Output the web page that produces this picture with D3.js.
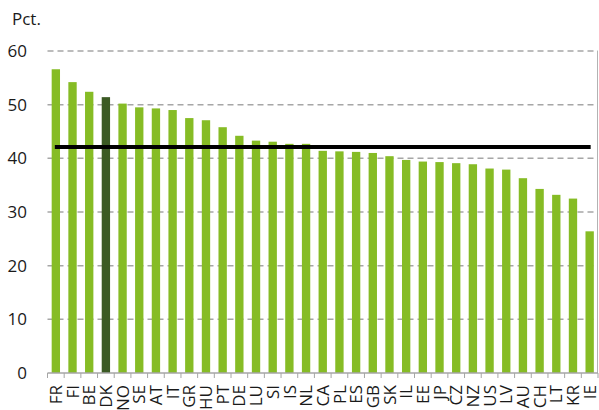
<!DOCTYPE html>
<html>
<head>
<meta charset="utf-8">
<script src="https://cdn.jsdelivr.net/npm/d3@7"></script>
<style>
  body { margin: 0; background: #fff; }
  svg text { font-family: "Open Sans", "Noto Sans", sans-serif; fill: #1a1a1a; }
</style>
</head>
<body>
<div id="chart"></div>
<script>
// Countries, sorted by value
const countries = ['FR', 'FI', 'BE', 'DK', 'NO', 'SE', 'AT', 'IT', 'GR', 'HU', 'PT', 'DE', 'LU', 'SI', 'IS',
  'NL', 'CA', 'PL', 'ES', 'GB', 'SK', 'IL', 'EE', 'JP', 'CZ', 'NZ', 'US', 'LV', 'AU', 'CH', 'LT', 'KR', 'IE'];
const values = [56.6, 54.2, 52.4, 51.4, 50.2, 49.5, 49.3, 49.0, 47.5, 47.1, 45.8, 44.2, 43.3, 43.1, 42.7,
  42.7, 41.4, 41.3, 41.2, 41.0, 40.4, 39.7, 39.4, 39.3, 39.1, 38.9, 38.1, 37.9, 36.3, 34.3, 33.2, 32.5, 26.4];
const average = 42.1;
const highlight = 'DK';
const yTicks = [0, 10, 20, 30, 40, 50, 60];
const unitLabel = 'Pct.';

const width = 599;
const height = 410;
const margin = { top: 51, right: 1, bottom: 37, left: 47.5 };

const svg = d3.select('#chart')
  .append('svg')
  .attr('width', width)
  .attr('height', height);

const x = d3.scaleBand()
  .domain(countries)
  .range([margin.left, width - margin.right])
  .paddingInner(0.5)
  .paddingOuter(0.25);

const y = d3.scaleLinear()
  .domain([0, 60])
  .range([height - margin.bottom, margin.top]);

const data = countries.map((c, i) => ({ country: c, value: values[i] }));

// dashed gridlines
svg.append('g')
  .selectAll('line')
  .data(yTicks.filter(d => d > 0))
  .join('line')
  .attr('x1', margin.left)
  .attr('x2', width - margin.right)
  .attr('y1', d => y(d))
  .attr('y2', d => y(d))
  .attr('stroke', '#a6a6a6')
  .attr('stroke-width', 1.5)
  .attr('stroke-dasharray', '6,4');

// right border
svg.append('line')
  .attr('x1', width - margin.right - 0.5)
  .attr('x2', width - margin.right - 0.5)
  .attr('y1', y(60))
  .attr('y2', y(0))
  .attr('stroke', '#b3b3b3')
  .attr('stroke-width', 1);

// bars
svg.append('g')
  .selectAll('rect')
  .data(data)
  .join('rect')
  .attr('x', d => x(d.country))
  .attr('width', x.bandwidth())
  .attr('y', d => y(d.value))
  .attr('height', d => y(0) - y(d.value))
  .attr('fill', d => d.country === highlight ? '#3b5a24' : '#86bc25');

// average line
const first = countries[0];
const last = countries[countries.length - 1];
svg.append('line')
  .attr('x1', x(first) + x.bandwidth() / 2 - 1)
  .attr('x2', x(last) + x.bandwidth() / 2 + 1)
  .attr('y1', y(average))
  .attr('y2', y(average))
  .attr('stroke', '#000')
  .attr('stroke-width', 4);

// x axis
const step = x.step();
const xAxis = svg.append('g')
  .attr('transform', `translate(0,${y(0)})`);

xAxis.append('line')
  .attr('x1', margin.left)
  .attr('x2', width - margin.right)
  .attr('stroke', '#a6a6a6')
  .attr('stroke-width', 1.5);

xAxis.selectAll('.tick')
  .data(d3.range(countries.length + 1))
  .join('line')
  .attr('class', 'tick')
  .attr('x1', i => margin.left + i * step)
  .attr('x2', i => margin.left + i * step)
  .attr('y1', 0)
  .attr('y2', 5)
  .attr('stroke', '#a6a6a6')
  .attr('stroke-width', 1);

xAxis.selectAll('text')
  .data(countries)
  .join('text')
  .attr('transform', d => `translate(${x(d) + x.bandwidth() / 2},12) rotate(-90)`)
  .attr('text-anchor', 'end')
  .attr('dy', '0.36em')
  .style('font-size', '17px')
  .text(d => d);

// y labels
svg.append('g')
  .selectAll('text')
  .data(yTicks)
  .join('text')
  .attr('x', 27)
  .attr('y', d => y(d))
  .attr('dy', '0.36em')
  .attr('text-anchor', 'end')
  .style('font-size', '17px')
  .text(d => d);

svg.append('text')
  .attr('x', 12)
  .attr('y', 25)
  .style('font-size', '17px')
  .text(unitLabel);
</script>
</body>
</html>
